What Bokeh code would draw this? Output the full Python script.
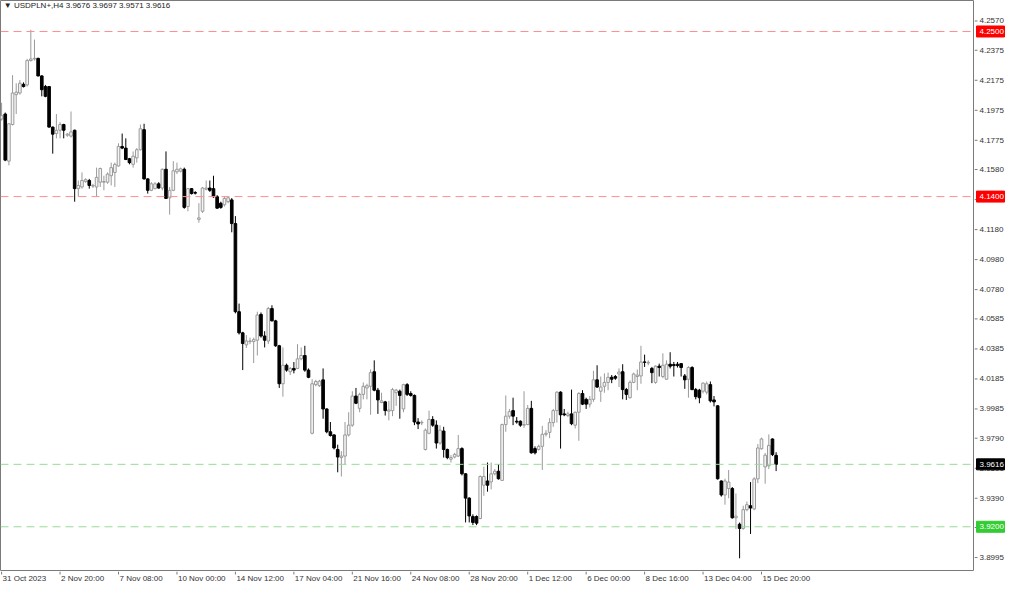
from bokeh.plotting import figure
from bokeh.models import Range1d, Label, Span, ColumnDataSource
from bokeh.layouts import gridplot
from bokeh.core.properties import value
from bokeh.embed import file_html
from bokeh.resources import INLINE

open_ = [4.1917, 4.1950, 4.1636, 4.1880, 4.2079, 4.2090, 4.2148, 4.2144, 4.2306, 4.2317,
         4.2321, 4.2204, 4.2133, 4.2133, 4.1863, 4.1820, 4.1842, 4.1880, 4.1809, 4.1803,
         4.1842, 4.1453, 4.1464, 4.1500, 4.1507, 4.1470, 4.1464, 4.1496, 4.1496, 4.1496,
         4.1539, 4.1561, 4.1604, 4.1734, 4.1723, 4.1652, 4.1615, 4.1658, 4.1712, 4.1846,
         4.1518, 4.1442, 4.1453, 4.1485, 4.1457, 4.1582, 4.1392, 4.1442, 4.1565, 4.1569,
         4.1582, 4.1334, 4.1453, 4.1427, 4.1248, 4.1302, 4.1449, 4.1457, 4.1453, 4.1399,
         4.1356, 4.1345, 4.1366, 4.1378, 4.1220, 4.0633, 4.0492, 4.0412, 4.0434, 4.0434,
         4.0443, 4.0615, 4.0471, 4.0438, 4.0654, 4.0572, 4.0406, 4.0153, 4.0276, 4.0233,
         4.0255, 4.0255, 4.0319, 4.0341, 4.0244, 3.9823, 4.0147, 4.0140, 4.0179, 3.9985,
         3.9833, 3.9812, 3.9715, 3.9661, 3.9671, 3.9812, 3.9877, 4.0071, 3.9989, 4.0082,
         4.0125, 4.0136, 4.0233, 4.0110, 4.0028, 4.0032, 3.9970, 3.9974, 4.0093, 4.0103,
         3.9985, 4.0147, 4.0088, 4.0075, 3.9898, 3.9892, 3.9715, 3.9823, 3.9915, 3.9877,
         3.9758, 3.9838, 3.9715, 3.9650, 3.9665, 3.9671, 3.9721, 3.9553, 3.9391, 3.9268,
         3.9268, 3.9255, 3.9477, 3.9505, 3.9499, 3.9553, 3.9570, 3.9509, 3.9881, 3.9937,
         3.9974, 3.9903, 3.9903, 3.9877, 3.9881, 3.9989, 3.9721, 3.9715, 3.9736, 3.9816,
         3.9829, 3.9894, 3.9974, 4.0097, 3.9952, 3.9941, 3.9952, 3.9877, 3.9963, 4.0088,
         4.0049, 4.0017, 4.0049, 4.0179, 4.0103, 4.0136, 4.0162, 4.0196, 4.0201, 4.0218,
         4.0233, 4.0114, 4.0060, 4.0162, 4.0201, 4.0205, 4.0298, 4.0291, 4.0255, 4.0162,
         4.0270, 4.0201, 4.0183, 4.0283, 4.0281, 4.0283, 4.0287, 4.0205, 4.0183, 4.0261,
         4.0114, 4.0110, 4.0103, 4.0097, 4.0147, 4.0045, 4.0006, 3.9505, 3.9412, 3.9455,
         3.9455, 3.9260, 3.9217, 3.9189, 3.9314, 3.9340, 3.9319, 3.9519, 3.9720, 3.9599,
         3.9606, 3.9785, 3.9676]

high = [4.2025, 4.1960, 4.1889, 4.2209, 4.2155, 4.2176, 4.2161, 4.2317, 4.2511, 4.2446,
        4.2325, 4.2209, 4.2144, 4.2137, 4.1867, 4.1950, 4.1896, 4.1885, 4.1824, 4.1967,
        4.1846, 4.1507, 4.1561, 4.1522, 4.1518, 4.1485, 4.1593, 4.1593, 4.1539, 4.1561,
        4.1626, 4.1626, 4.1755, 4.1820, 4.1788, 4.1658, 4.1701, 4.1723, 4.1880, 4.1885,
        4.1522, 4.1496, 4.1496, 4.1496, 4.1587, 4.1701, 4.1464, 4.1636, 4.1626, 4.1593,
        4.1593, 4.1457, 4.1457, 4.1436, 4.1356, 4.1464, 4.1507, 4.1507, 4.1539, 4.1410,
        4.1366, 4.1399, 4.1399, 4.1390, 4.1270, 4.0687, 4.0499, 4.0477, 4.0460, 4.0460,
        4.0633, 4.0628, 4.0503, 4.0665, 4.0676, 4.0579, 4.0412, 4.0395, 4.0287, 4.0265,
        4.0298, 4.0417, 4.0395, 4.0406, 4.0255, 4.0183, 4.0179, 4.0179, 4.0255, 3.9989,
        3.9898, 3.9816, 3.9747, 3.9704, 3.9898, 3.9963, 4.0103, 4.0125, 4.0093, 4.0162,
        4.0153, 4.0248, 4.0309, 4.0125, 4.0093, 4.0039, 4.0039, 4.0125, 4.0119, 4.0114,
        4.0153, 4.0157, 4.0103, 4.0082, 3.9924, 3.9909, 3.9855, 3.9974, 3.9937, 3.9909,
        3.9877, 3.9866, 3.9721, 3.9678, 3.9693, 3.9812, 3.9730, 3.9557, 3.9397, 3.9283,
        3.9276, 3.9542, 3.9600, 3.9628, 3.9628, 3.9585, 3.9617, 3.9887, 4.0075, 3.9985,
        4.0060, 3.9931, 3.9909, 4.0103, 4.0011, 4.0039, 3.9736, 3.9747, 3.9872, 3.9844,
        3.9924, 3.9985, 4.0103, 4.0103, 3.9985, 3.9967, 4.0114, 3.9967, 4.0097, 4.0110,
        4.0060, 4.0071, 4.0239, 4.0276, 4.0201, 4.0222, 4.0227, 4.0211, 4.0211, 4.0255,
        4.0283, 4.0125, 4.0175, 4.0227, 4.0248, 4.0406, 4.0347, 4.0309, 4.0265, 4.0276,
        4.0287, 4.0356, 4.0309, 4.0363, 4.0298, 4.0298, 4.0291, 4.0218, 4.0270, 4.0270,
        4.0125, 4.0119, 4.0162, 4.0168, 4.0168, 4.0071, 4.0011, 3.9509, 3.9520, 3.9578,
        3.9465, 3.9422, 3.9228, 3.9340, 3.9368, 3.9498, 3.9530, 3.9751, 3.9794, 3.9692,
        3.9815, 3.9789, 3.9697]

low = [4.1906, 4.1636, 4.1608, 4.1874, 4.1950, 4.2079, 4.2127, 4.2133, 4.2300, 4.2306,
       4.2200, 4.2068, 4.2062, 4.1859, 4.1686, 4.1788, 4.1788, 4.1788, 4.1798, 4.1794,
       4.1366, 4.1399, 4.1453, 4.1492, 4.1453, 4.1457, 4.1399, 4.1464, 4.1442, 4.1485,
       4.1474, 4.1464, 4.1600, 4.1716, 4.1643, 4.1615, 4.1593, 4.1626, 4.1708, 4.1513,
       4.1420, 4.1436, 4.1449, 4.1453, 4.1442, 4.1384, 4.1280, 4.1436, 4.1550, 4.1561,
       4.1319, 4.1302, 4.1414, 4.1414, 4.1226, 4.1291, 4.1442, 4.1431, 4.1392, 4.1319,
       4.1319, 4.1334, 4.1356, 4.1162, 4.0622, 4.0481, 4.0244, 4.0391, 4.0417, 4.0291,
       4.0341, 4.0460, 4.0395, 4.0417, 4.0568, 4.0399, 4.0125, 4.0067, 4.0233, 4.0211,
       4.0222, 4.0250, 4.0309, 4.0233, 4.0190, 3.9816, 4.0136, 4.0131, 3.9920, 3.9823,
       3.9801, 3.9715, 3.9563, 3.9535, 3.9613, 3.9801, 3.9866, 4.0017, 3.9963, 4.0049,
       4.0049, 3.9946, 4.0103, 3.9952, 4.0023, 3.9941, 3.9909, 3.9937, 4.0006, 3.9920,
       3.9963, 4.0071, 4.0067, 3.9877, 3.9851, 3.9877, 3.9708, 3.9816, 3.9866, 3.9721,
       3.9747, 3.9661, 3.9650, 3.9628, 3.9656, 3.9665, 3.9542, 3.9229, 3.9229, 3.9211,
       3.9211, 3.9250, 3.9406, 3.9434, 3.9449, 3.9542, 3.9514, 3.9505, 3.9833, 3.9920,
       3.9877, 3.9887, 3.9866, 3.9859, 3.9877, 3.9687, 3.9682, 3.9708, 3.9579, 3.9801,
       3.9790, 3.9866, 3.9894, 3.9721, 3.9937, 3.9931, 3.9877, 3.9855, 3.9773, 4.0011,
       3.9985, 3.9995, 4.0032, 4.0125, 4.0032, 4.0093, 4.0110, 4.0157, 4.0179, 4.0131,
       4.0049, 4.0045, 4.0054, 4.0157, 4.0110, 4.0153, 4.0265, 4.0276, 4.0157, 4.0153,
       4.0201, 4.0190, 4.0179, 4.0255, 4.0201, 4.0261, 4.0201, 4.0119, 4.0060, 4.0110,
       4.0049, 4.0023, 4.0088, 4.0082, 4.0028, 4.0002, 3.9514, 3.9401, 3.9347, 3.9390,
       3.9254, 3.9185, 3.8990, 3.9180, 3.9303, 3.9152, 3.9310, 3.9491, 3.9714, 3.9487,
       3.9584, 3.9671, 3.9571]

close = [4.1939, 4.1643, 4.1885, 4.2090, 4.2096, 4.2155, 4.2133, 4.2306, 4.2317, 4.2321,
         4.2204, 4.2112, 4.2068, 4.1863, 4.1816, 4.1842, 4.1880, 4.1842, 4.1816, 4.1831,
         4.1453, 4.1474, 4.1507, 4.1513, 4.1474, 4.1474, 4.1528, 4.1587, 4.1500, 4.1550,
         4.1593, 4.1615, 4.1734, 4.1723, 4.1647, 4.1626, 4.1669, 4.1712, 4.1852, 4.1518,
         4.1442, 4.1485, 4.1485, 4.1457, 4.1582, 4.1388, 4.1442, 4.1572, 4.1582, 4.1585,
         4.1328, 4.1453, 4.1420, 4.1423, 4.1258, 4.1457, 4.1457, 4.1442, 4.1399, 4.1323,
         4.1328, 4.1388, 4.1392, 4.1220, 4.0633, 4.0492, 4.0421, 4.0438, 4.0438, 4.0447,
         4.0611, 4.0471, 4.0443, 4.0654, 4.0572, 4.0406, 4.0153, 4.0276, 4.0244, 4.0255,
         4.0244, 4.0319, 4.0341, 4.0244, 4.0196, 4.0153, 4.0168, 4.0170, 3.9985, 3.9833,
         3.9808, 3.9725, 3.9665, 3.9671, 3.9812, 3.9877, 4.0071, 4.0023, 4.0082, 4.0136,
         4.0140, 4.0227, 4.0110, 4.0045, 4.0039, 3.9974, 3.9978, 4.0114, 4.0110, 4.0075,
         4.0147, 4.0082, 4.0075, 3.9898, 3.9885, 3.9896, 3.9844, 3.9915, 3.9877, 3.9758,
         3.9844, 3.9715, 3.9661, 3.9661, 3.9682, 3.9721, 3.9553, 3.9391, 3.9272, 3.9229,
         3.9224, 3.9535, 3.9535, 3.9477, 3.9553, 3.9570, 3.9520, 3.9881, 3.9937, 3.9967,
         3.9937, 3.9898, 3.9877, 3.9881, 3.9989, 3.9693, 3.9693, 3.9736, 3.9816, 3.9823,
         3.9894, 3.9974, 4.0097, 3.9946, 3.9946, 3.9952, 3.9887, 3.9963, 4.0088, 4.0017,
         4.0017, 4.0049, 4.0179, 4.0131, 4.0131, 4.0162, 4.0196, 4.0183, 4.0190, 4.0231,
         4.0114, 4.0082, 4.0162, 4.0218, 4.0211, 4.0298, 4.0296, 4.0296, 4.0227, 4.0270,
         4.0261, 4.0276, 4.0283, 4.0270, 4.0274, 4.0274, 4.0261, 4.0179, 4.0261, 4.0114,
         4.0067, 4.0060, 4.0157, 4.0153, 4.0039, 4.0032, 3.9520, 3.9412, 3.9505, 3.9498,
         3.9260, 3.9271, 3.9189, 3.9314, 3.9347, 3.9325, 3.9519, 3.9725, 3.9785, 3.9677,
         3.9742, 3.9681, 3.9616]

date_labels = ["31 Oct 2023", "2 Nov 20:00", "7 Nov 08:00", "10 Nov 00:00", "14 Nov 12:00",
               "17 Nov 04:00", "21 Nov 16:00", "24 Nov 08:00", "28 Nov 20:00", "1 Dec 12:00",
               "6 Dec 00:00", "8 Dec 16:00", "13 Dec 04:00", "15 Dec 20:00"]
date_label_bars = [0, 16, 32, 48, 64, 80, 96, 112, 128, 144, 160, 176, 192, 208]

price_ticks = [4.2570, 4.2375, 4.2175, 4.1975, 4.1775, 4.1580, 4.1380, 4.1180, 4.0980,
               4.0780, 4.0585, 4.0385, 4.0185, 3.9985, 3.9790, 3.9590, 3.9390, 3.9195, 3.8995]

red_levels = [4.2500, 4.1400]
green_levels = [3.9616, 3.9200]
symbol = "USDPLN+,H4"

FONT = "Liberation Sans"
AXIS_COL = "#7a7a7a"
TEXT_COL = "#333333"

n = len(open_)
xs = list(range(n))
bull = [c >= o for o, c in zip(open_, close)]
src = ColumnDataSource(dict(
    x=xs, high=high, low=low,
    top=[max(o, c) for o, c in zip(open_, close)],
    bottom=[min(o, c) for o, c in zip(open_, close)],
    fill=["#f4f4f4" if b else "#000000" for b in bull],
    line=["#9a9a9a" if b else "#000000" for b in bull],
))

X0, X1 = -0.3, 266.3
Y0, Y1 = 3.8902, 4.27065
MAIN_W, MAIN_H = 974, 571
RIGHT_W, BOTTOM_H = 34, 13


def bare(fig):
    fig.xaxis.visible = False
    fig.yaxis.visible = False
    fig.xgrid.visible = False
    fig.ygrid.visible = False
    return fig


# ---- main chart frame ----
p = bare(figure(width=MAIN_W, height=MAIN_H, x_range=Range1d(X0, X1), y_range=Range1d(Y0, Y1),
                output_backend="svg", toolbar_location=None, min_border=0,
                background_fill_color="white", border_fill_color="white"))
p.outline_line_color = AXIS_COL

p.segment(x0="x", y0="high", x1="x", y1="low", line_color="line", line_width=1, source=src)
p.vbar(x="x", width=0.72, top="top", bottom="bottom", fill_color="fill", line_color="line",
       line_width=1, source=src)

for lv in red_levels:
    p.add_layout(Span(location=lv, dimension="width", line_color="#ff8f8f", line_dash="8 5", line_width=1))
for lv in green_levels:
    p.add_layout(Span(location=lv, dimension="width", line_color="#98dc98", line_dash="8 5", line_width=1))

title = f"\u25bc {symbol}  {open_[-1]:.4f} {high[-1]:.4f} {low[-1]:.4f} {close[-1]:.4f}"
p.add_layout(Label(x=X0 + 0.9, y=Y1 - 0.0036, text=title, text_font=FONT, text_font_size="8px",
                   text_color="#222222", text_baseline="middle", text_align="left"))

# ---- right price scale panel ----
r = bare(figure(width=RIGHT_W, height=MAIN_H, x_range=Range1d(0, RIGHT_W), y_range=p.y_range,
                output_backend="svg", toolbar_location=None, min_border=0,
                background_fill_color="white", border_fill_color="white"))
r.outline_line_color = None
r.segment(x0=0, x1=3, y0=price_ticks, y1=price_ticks, line_color=AXIS_COL, line_width=1)
r.text(x=5, y=price_ticks, text=[f"{t:.4f}" for t in price_ticks], text_font=value(FONT),
       text_font_size="8px", text_color=TEXT_COL, text_baseline="middle", text_align="left")
box_levels = red_levels + green_levels
box_colors = ["#ff0000", "#ff0000", "#000000", "#33cc33"]
r.rect(x=16, y=box_levels, width=28, height=11, height_units="screen",
       fill_color=box_colors, line_color=box_colors)
r.text(x=5, y=box_levels, text=[f"{t:.4f}" for t in box_levels], text_font=value(FONT),
       text_font_size="8px", text_color="white", text_baseline="middle", text_align="left")

# ---- bottom time scale panel ----
b = bare(figure(width=MAIN_W, height=BOTTOM_H, x_range=p.x_range, y_range=Range1d(0, BOTTOM_H),
                output_backend="svg", toolbar_location=None, min_border=0,
                background_fill_color="white", border_fill_color="white"))
b.outline_line_color = None
b.segment(x0=date_label_bars, x1=date_label_bars, y0=BOTTOM_H, y1=BOTTOM_H - 3,
          line_color=AXIS_COL, line_width=1)
b.text(x=date_label_bars, y=BOTTOM_H - 2, text=date_labels, x_offset=1, text_font=value(FONT),
       text_font_size="8px", text_color=TEXT_COL, text_baseline="top", text_align="left")

grid = gridplot([[p, r], [b, None]], toolbar_location=None)
open("out.html", "w").write(file_html(grid, INLINE))
